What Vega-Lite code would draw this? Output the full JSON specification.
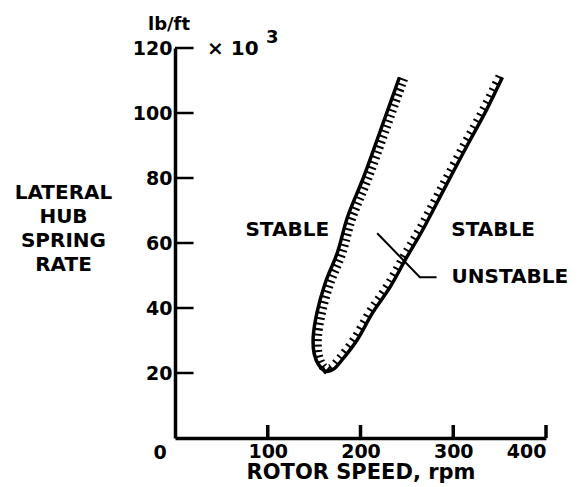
{
  "$schema": "https://vega.github.io/schema/vega-lite/v6.json",
  "width": 371,
  "height": 390,
  "autosize": {"type": "none"},
  "padding": {"left": 175, "top": 48, "right": 32, "bottom": 49},
  "background": "white",
  "config": {
    "view": {"stroke": null},
    "font": "DejaVu Sans",
    "axis": {"grid": false, "domainColor": "black", "tickColor": "black", "labelColor": "black", "titleColor": "black", "labelFont": "DejaVu Sans", "labelFontWeight": "bold", "titleFont": "DejaVu Sans", "titleFontWeight": "bold"}
  },
  "datasets": {
    "curve": [
      {"i": 1, "branch": "L", "rpm": 242, "k": 111},
      {"i": 2, "branch": "L", "rpm": 222, "k": 95},
      {"i": 3, "branch": "L", "rpm": 203, "k": 80},
      {"i": 4, "branch": "L", "rpm": 186, "k": 68},
      {"i": 5, "branch": "L", "rpm": 175, "k": 57},
      {"i": 6, "branch": "L", "rpm": 162, "k": 47.7},
      {"i": 7, "branch": "L", "rpm": 153, "k": 38.5},
      {"i": 8, "branch": "L", "rpm": 149, "k": 31},
      {"i": 9, "branch": "L", "rpm": 150, "k": 26},
      {"i": 10, "branch": "L", "rpm": 155, "k": 22.5},
      {"i": 11, "branch": "B", "rpm": 163, "k": 20.5},
      {"i": 12, "branch": "R", "rpm": 171, "k": 21.2},
      {"i": 13, "branch": "R", "rpm": 180, "k": 24},
      {"i": 14, "branch": "R", "rpm": 196, "k": 30},
      {"i": 15, "branch": "R", "rpm": 213, "k": 38.5},
      {"i": 16, "branch": "R", "rpm": 232, "k": 46.5},
      {"i": 17, "branch": "R", "rpm": 250, "k": 55.7},
      {"i": 18, "branch": "R", "rpm": 267, "k": 64},
      {"i": 19, "branch": "R", "rpm": 290, "k": 76.5},
      {"i": 20, "branch": "R", "rpm": 315, "k": 90},
      {"i": 21, "branch": "R", "rpm": 335, "k": 100.5},
      {"i": 22, "branch": "R", "rpm": 353, "k": 111}
    ],
    "leader": [
      {"j": 1, "rpm": 218, "k": 63},
      {"j": 2, "rpm": 264, "k": 49.5},
      {"j": 3, "rpm": 282, "k": 49.5}
    ],
    "labels": [
      {"label": "STABLE", "rpm": 121, "k": 64},
      {"label": "STABLE", "rpm": 343, "k": 64},
      {"label": "UNSTABLE", "rpm": 361, "k": 49.5}
    ],
    "corner": [
      {"rpm": 0, "k": 120, "zero": 0}
    ],
    "yticks": [{"k": 20}, {"k": 40}, {"k": 60}, {"k": 80}, {"k": 100}, {"k": 120}],
    "xticks": [{"rpm": 100}, {"rpm": 200}, {"rpm": 300}, {"rpm": 400}]
  },
  "layer": [
    {
      "data": {"name": "curve"},
      "mark": {"type": "line", "color": "black", "strokeWidth": 3.5, "interpolate": "catmull-rom"},
      "encoding": {
        "x": {"field": "rpm", "type": "quantitative", "scale": {"domain": [0, 400], "nice": false},
          "axis": {"values": [100, 200, 300, 400], "tickSize": 0, "ticks": false, "domainWidth": 3.5, "labelFontSize": 19, "labelPadding": 4, "title": "ROTOR SPEED, rpm", "titleFontSize": 21, "titlePadding": 0}},
        "y": {"field": "k", "type": "quantitative", "scale": {"domain": [0, 120], "nice": false},
          "axis": {"values": [20, 40, 60, 80, 100, 120], "tickSize": 0, "ticks": false, "domainWidth": 3.5, "labelFontSize": 19, "labelPadding": 3,
            "title": ["LATERAL", "HUB", "SPRING", "RATE"], "titleAngle": 0, "titleAlign": "center", "titleBaseline": "alphabetic", "titleX": -112, "titleY": 150, "titleFontSize": 20, "titleLineHeight": 24}},
        "order": {"field": "i", "type": "quantitative"}
      }
    },
    {
      "data": {"name": "yticks"},
      "mark": {"type": "rule", "color": "black", "strokeWidth": 2.5},
      "encoding": {
        "x": {"datum": 0, "type": "quantitative"},
        "x2": {"datum": 20},
        "y": {"field": "k", "type": "quantitative"}
      }
    },
    {
      "data": {"name": "xticks"},
      "mark": {"type": "rule", "color": "black", "strokeWidth": 3.5},
      "encoding": {
        "x": {"field": "rpm", "type": "quantitative"},
        "y": {"datum": 0, "type": "quantitative"},
        "y2": {"datum": 4}
      }
    },
    {
      "data": {"name": "curve"},
      "transform": [{"filter": "datum.branch != 'R'"}],
      "mark": {"type": "line", "color": "black", "strokeWidth": 9, "strokeDash": [2, 3.5], "strokeCap": "butt", "interpolate": "catmull-rom", "xOffset": 4.2, "yOffset": 1.4},
      "encoding": {
        "x": {"field": "rpm", "type": "quantitative"},
        "y": {"field": "k", "type": "quantitative"},
        "order": {"field": "i", "type": "quantitative"}
      }
    },
    {
      "data": {"name": "curve"},
      "transform": [{"filter": "datum.branch != 'L'"}],
      "mark": {"type": "line", "color": "black", "strokeWidth": 7, "strokeDash": [2, 5], "strokeCap": "butt", "interpolate": "catmull-rom", "xOffset": -3.2, "yOffset": -1.8},
      "encoding": {
        "x": {"field": "rpm", "type": "quantitative"},
        "y": {"field": "k", "type": "quantitative"},
        "order": {"field": "i", "type": "quantitative"}
      }
    },
    {
      "data": {"name": "leader"},
      "mark": {"type": "line", "color": "black", "strokeWidth": 2},
      "encoding": {
        "x": {"field": "rpm", "type": "quantitative"},
        "y": {"field": "k", "type": "quantitative"},
        "order": {"field": "j", "type": "quantitative"}
      }
    },
    {
      "data": {"name": "labels"},
      "mark": {"type": "text", "font": "DejaVu Sans", "fontWeight": "bold", "fontSize": 20, "align": "center", "baseline": "middle", "color": "black"},
      "encoding": {
        "x": {"field": "rpm", "type": "quantitative"},
        "y": {"field": "k", "type": "quantitative"},
        "text": {"field": "label"}
      }
    },
    {
      "data": {"name": "corner"},
      "mark": {"type": "text", "font": "DejaVu Sans", "fontWeight": "bold", "fontSize": 18, "align": "center", "baseline": "alphabetic", "dx": -6, "dy": -18, "color": "black"},
      "encoding": {
        "x": {"field": "rpm", "type": "quantitative"},
        "y": {"field": "k", "type": "quantitative"},
        "text": {"value": "lb/ft"}
      }
    },
    {
      "data": {"name": "corner"},
      "mark": {"type": "text", "font": "DejaVu Sans", "fontWeight": "bold", "fontSize": 20, "align": "left", "baseline": "alphabetic", "dx": 32, "dy": 7, "color": "black"},
      "encoding": {
        "x": {"field": "rpm", "type": "quantitative"},
        "y": {"field": "k", "type": "quantitative"},
        "text": {"value": "× 10"}
      }
    },
    {
      "data": {"name": "corner"},
      "mark": {"type": "text", "font": "DejaVu Sans", "fontWeight": "bold", "fontSize": 18, "align": "left", "baseline": "alphabetic", "dx": 91, "dy": -5, "color": "black"},
      "encoding": {
        "x": {"field": "rpm", "type": "quantitative"},
        "y": {"field": "k", "type": "quantitative"},
        "text": {"value": "3"}
      }
    },
    {
      "data": {"name": "corner"},
      "mark": {"type": "text", "font": "DejaVu Sans", "fontWeight": "bold", "fontSize": 19, "align": "center", "baseline": "alphabetic", "dx": -15, "dy": 21, "color": "black"},
      "encoding": {
        "x": {"field": "zero", "type": "quantitative"},
        "y": {"field": "zero", "type": "quantitative"},
        "text": {"value": "0"}
      }
    }
  ]
}
